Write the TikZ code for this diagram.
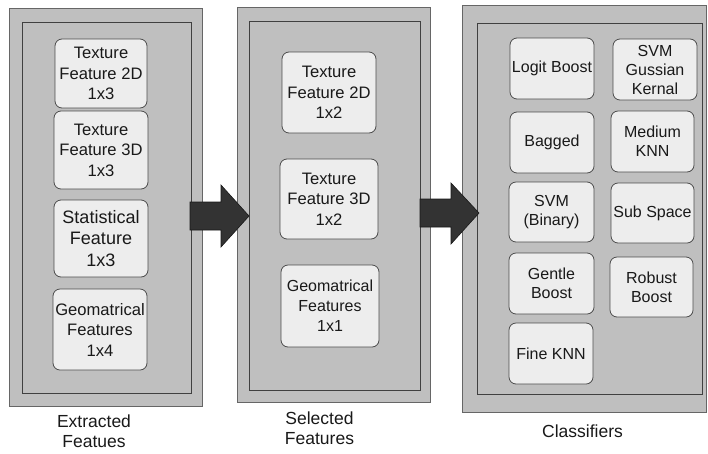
\documentclass[tikz,border=0pt]{standalone}
\usepackage{fontspec}
\setmainfont{Liberation Sans}
\begin{document}
\begin{tikzpicture}[x=1pt,y=-1pt,
  panel/.style={draw=black!60, fill=black!25, line width=0.8pt, inner sep=0pt},
  innerpanel/.style={draw=black!75, fill=black!25, line width=0.8pt, inner sep=0pt},
  feat/.style={draw=black!70, fill=black!7, rounded corners=7pt, line width=0.8pt,
    align=center, inner sep=0pt, text=black!90, font=\fontsize{16.6}{20.5}\selectfont},
  clf/.style={feat, font=\fontsize{16}{19}\selectfont},
  paneltitle/.style={align=center, inner sep=0pt, anchor=north, text=black!90,
    font=\fontsize{17.5}{20}\selectfont},
  blockarrow/.style={fill=black!80, draw=black!90, line width=0.6pt}]

\fill[white] (0,0) rectangle (708,453);
\useasboundingbox (0,0) rectangle (708,453);

% ---------- panel 1: extracted features ----------
\node[panel, minimum width=193pt, minimum height=398pt] (p1) at (105.5,207) {};
\node[innerpanel, minimum width=169pt, minimum height=371pt] (p1in) at (106.5,207.5) {};
\node[feat, minimum width=92pt, minimum height=69pt] (e1) at (101,73.5) {Texture\\Feature 2D\\1x3};
\node[feat, minimum width=94pt, minimum height=78pt] (e2) at (101,150) {Texture\\Feature 3D\\1x3};
\node[feat, minimum width=94pt, minimum height=77pt, font=\fontsize{18}{21.5}\selectfont] (e3) at (101,238.5) {Statistical\\Feature\\1x3};
\node[feat, minimum width=94pt, minimum height=81pt] (e4) at (100,329.5) {Geomatrical\\Features\\1x4};
\node[paneltitle] (t1) at (94,415) {Extracted\\Featues};

% ---------- panel 2: selected features ----------
\node[panel, minimum width=193pt, minimum height=395pt] (p2) at (333.5,204.5) {};
\node[innerpanel, minimum width=171pt, minimum height=369pt] (p2in) at (334.5,205.5) {};
\node[feat, minimum width=94pt, minimum height=81pt] (s1) at (329,92.5) {Texture\\Feature 2D\\1x2};
\node[feat, minimum width=98pt, minimum height=80pt] (s2) at (329,199) {Texture\\Feature 3D\\1x2};
\node[feat, minimum width=98pt, minimum height=82pt, font=\fontsize{16}{20}\selectfont] (s3) at (330,306) {Geomatrical\\Features\\1x1};
\node[paneltitle] (t2) at (319.5,412) {Selected\\Features};

% ---------- panel 3: classifiers ----------
\node[panel, minimum width=244pt, minimum height=407pt] (p3) at (584,208.5) {};
\node[innerpanel, minimum width=225pt, minimum height=371pt] (p3in) at (589.5,208.5) {};
\node[clf, minimum width=84pt, minimum height=61pt] (c1) at (552,68.5) {Logit Boost};
\node[clf, minimum width=84pt, minimum height=61pt] (c2) at (655,69.5) {SVM\\Gussian\\Kernal};
\node[clf, minimum width=84pt, minimum height=61pt] (c3) at (552,142.5) {Bagged};
\node[clf, minimum width=83pt, minimum height=61pt] (c4) at (652.5,141.5) {Medium\\KNN};
\node[clf, minimum width=85pt, minimum height=60pt] (c5) at (551.5,212) {SVM\\(Binary)};
\node[clf, minimum width=83pt, minimum height=60pt] (c6) at (652.5,213) {Sub Space};
\node[clf, minimum width=85pt, minimum height=61pt] (c7) at (551.5,283.5) {Gentle\\Boost};
\node[clf, minimum width=83pt, minimum height=60pt] (c8) at (651.5,287) {Robust\\Boost};
\node[clf, minimum width=84pt, minimum height=61pt] (c9) at (551,353.5) {Fine KNN};
\node[paneltitle] (t3) at (582.5,425) {Classifiers};

% ---------- block arrows between the panels ----------
\draw[blockarrow] (190,202) -- (221,202) -- (221,185) -- (249,216)
  -- (221,247) -- (221,230) -- (190,230) -- cycle;
\draw[blockarrow] (420,199) -- (451,199) -- (451,183) -- (479,213)
  -- (451,244) -- (451,227) -- (420,227) -- cycle;
\end{tikzpicture}
\end{document}
